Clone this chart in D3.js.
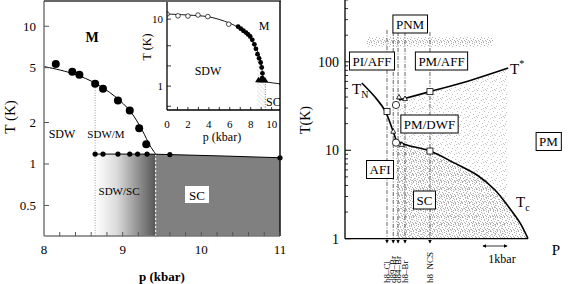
<!DOCTYPE html>
<html><head><meta charset="utf-8">
<script src="https://cdn.jsdelivr.net/npm/d3@7"></script>
<style>
body{margin:0;background:#fff}
svg{display:block}
text{font-family:"Liberation Serif","DejaVu Serif",serif;fill:#000}
</style>
</head><body>
<svg id="c" width="581" height="284"></svg>
<script>
// ---------------- DATA ----------------
// Left panel (main)
const leftTTicks = [0.5, 1, 2, 5, 10];
const leftTTickLabels = ["0.5", "1", "2", "5", "10"];
const leftPTicks = [8, 9, 10, 11];
const leftPTickLabels = ["8", "9", "10", "11"];
const sdwP = [8.15, 8.36, 8.45, 8.65, 8.75, 8.94, 9.09, 9.21, 9.30];
const sdwT = [5.33, 4.67, 4.44, 3.83, 3.52, 2.89, 2.45, 1.82, 1.39];
const sdwCurveP = [8.0, 8.3, 8.6, 8.9, 9.1, 9.25, 9.35, 9.42];
const sdwCurveT = [5.1, 4.65, 4.0, 3.1, 2.4, 1.75, 1.35, 1.18];
const scP = [8.65, 8.75, 8.94, 9.09, 9.19, 9.31, 9.60, 11.0];
const scT = [1.18, 1.18, 1.18, 1.18, 1.18, 1.18, 1.17, 1.11];
const coexStartP = 8.65, scOnsetP = 9.42;
const leftLabels = ["M", "SDW", "SDW/M", "SDW/SC", "SC"];

// Inset
const insetPTicks = [0, 2, 4, 6, 8, 10];
const insetTTicks = [1, 10];
const insetOpenP = [0, 1.05, 2.0, 2.96, 3.9, 5.9];
const insetOpenT = [11.9, 11.2, 11.1, 11.5, 10.9, 8.4];
const insetFilledP = [6.8, 7.05, 7.3, 7.55, 7.75, 7.95, 8.15, 8.35, 8.5, 8.65, 8.8, 8.95, 9.05, 9.12, 9.1];
const insetFilledT = [7.7, 7.2, 6.7, 6.3, 5.9, 5.5, 4.9, 4.2, 3.6, 3.0, 2.6, 2.25, 1.9, 1.55, 1.32];
const insetScPtsP = [8.75, 8.95, 9.15, 9.35];
const insetScPtsT = [1.2, 1.2, 1.2, 1.2];
const insetCurveP = [0, 2, 4, 5.5, 6.5, 7.3, 7.9, 8.4, 8.8, 9.0, 9.1, 9.15, 9.2];
const insetCurveT = [11.9, 11.5, 10.8, 9.3, 8.0, 6.6, 5.5, 4.0, 2.9, 2.2, 1.7, 1.4, 1.2];
const insetScLineP = [8.6, 11.0];
const insetScLineT = [1.2, 1.07];

// Right panel (generic phase diagram, pressure in kbar relative to h8-Cl)
const rightTTicks = [1, 10, 100];
const rightTTickLabels = ["1", "10", "100"];
const sampleNames = ["h8\u2013Cl", "d89\u2013Br", "d84\u2013Br", "h8\u2013Br", "h8\u2002NCS"];
const sampleP = [0, 0.26, 0.46, 0.75, 1.79];
const tStarP = [0.5, 1.79, 3.5, 5.05];
const tStarT = [37, 46, 62, 85];
const tNP = [-1.05, -0.5, -0.08, 0.26, 0.375];
const tNT = [57.7, 40, 27.9, 16.2, 13.1];
const tcP = [0.375, 0.75, 1.79, 2.8, 3.75, 4.5, 5.125, 5.55, 5.875];
const tcT = [13, 11.6, 9.8, 7.2, 5.25, 3.55, 2.18, 1.5, 1.0];
const openCircP = [0.375, 0.375];
const openCircT = [32.5, 12.2];
const openSqP = [0, 1.79, 1.79];
const openSqT = [27.5, 46, 9.8];
const smallTriP = [0.5, 0.75, 0.26, 0.62];
const smallTriT = [39.6, 38, 16.2, 11.5];
const boxLabels = ["PNM", "PI/AFF", "PM/AFF", "PM/DWF", "PM", "AFI", "SC"];

// ---------------- DRAW ----------------
const svg = d3.select("#c");
const defs = svg.append("defs");
const zip = (a, b) => a.map((v, i) => [v, b[i]]);

const grad = defs.append("linearGradient").attr("id", "g1").attr("x1", "0").attr("x2", "1").attr("y1", "0").attr("y2", "0");
grad.append("stop").attr("offset", "0").attr("stop-color", "#ffffff");
grad.append("stop").attr("offset", "0.35").attr("stop-color", "#dcdcdc");
grad.append("stop").attr("offset", "1").attr("stop-color", "#555555");
const hatch = defs.append("pattern").attr("id", "hatch").attr("width", 3).attr("height", 3)
  .attr("patternUnits", "userSpaceOnUse").attr("patternTransform", "rotate(-45)");
hatch.append("line").attr("x1", 0).attr("y1", 0).attr("x2", 0).attr("y2", 3).attr("stroke", "#aaa").attr("stroke-width", 0.6);
function stipple(id, size, dots, col) {
  const p = defs.append("pattern").attr("id", id).attr("width", size).attr("height", size).attr("patternUnits", "userSpaceOnUse");
  dots.forEach(d => p.append("rect").attr("x", d[0]).attr("y", d[1]).attr("width", 1).attr("height", 1).attr("fill", col));
}
stipple("st1", 9, [[0,0],[4,1],[7,3],[2,4],[5,6],[1,7],[8,8],[6,0]], "#c4c4c4");
stipple("st2", 7, [[0,0],[3,1],[5,2],[1,3],[4,4],[6,5],[2,5],[0,6],[5,0],[3,6]], "#adadad");

// ===== LEFT PANEL =====
const xL = d3.scaleLinear().domain([8, 11]).range([44, 280]);
const yL = d3.scaleLog().domain([0.3, 15]).range([236, 2]);
const gL = svg.append("g");
const Tmin = 0.3;

gL.append("rect").attr("x", xL(coexStartP)).attr("y", yL(1.18))
  .attr("width", xL(scOnsetP) - xL(coexStartP)).attr("height", yL(Tmin) - yL(1.18)).attr("fill", "url(#g1)");
const scPoly = [[scOnsetP, Tmin], [scOnsetP, 1.18], [9.60, 1.17], [11, 1.11], [11, Tmin]];
gL.append("path").attr("d", d3.line().x(d => xL(d[0])).y(d => yL(d[1]))(scPoly) + "Z").attr("fill", "#808080");
gL.append("line").attr("x1", xL(scOnsetP)).attr("x2", xL(scOnsetP)).attr("y1", yL(Tmin)).attr("y2", yL(1.18))
  .attr("stroke", "#fff").attr("stroke-width", 1).attr("stroke-dasharray", "2,2");
gL.append("line").attr("x1", xL(coexStartP)).attr("x2", xL(coexStartP)).attr("y1", yL(Tmin)).attr("y2", yL(3.95))
  .attr("stroke", "#888").attr("stroke-width", 0.8).attr("stroke-dasharray", "1,1.5");

const lineL = d3.line().x(d => xL(d[0])).y(d => yL(d[1])).curve(d3.curveMonotoneX);
gL.append("path").attr("d", d3.line().x(d => xL(d[0])).y(d => yL(d[1])).curve(d3.curveCatmullRom)(zip(sdwCurveP, sdwCurveT)))
  .attr("fill", "none").attr("stroke", "#000").attr("stroke-width", 1);
gL.append("path").attr("d", lineL(zip(scP, scT))).attr("fill", "none").attr("stroke", "#000").attr("stroke-width", 1);
gL.selectAll(".sdw").data(zip(sdwP, sdwT)).join("circle").attr("cx", d => xL(d[0])).attr("cy", d => yL(d[1])).attr("r", 4).attr("fill", "#000");
gL.selectAll(".sc").data(zip(scP, scT)).join("circle").attr("cx", d => xL(d[0])).attr("cy", d => yL(d[1])).attr("r", 2.6).attr("fill", "#000");

gL.append("line").attr("x1", 44).attr("x2", 44).attr("y1", 1).attr("y2", 236).attr("stroke", "#777").attr("stroke-width", 1.5);
gL.append("line").attr("x1", 44).attr("x2", 280).attr("y1", 236).attr("y2", 236).attr("stroke", "#777").attr("stroke-width", 1.5);
gL.append("line").attr("x1", 44).attr("x2", 281).attr("y1", 1).attr("y2", 1).attr("stroke", "#333").attr("stroke-width", 1.5);
gL.append("line").attr("x1", 280).attr("x2", 280).attr("y1", 1).attr("y2", 236).attr("stroke", "#111").attr("stroke-width", 1.5);
leftTTicks.forEach((t, i) => {
  gL.append("line").attr("x1", 44).attr("x2", 49).attr("y1", yL(t)).attr("y2", yL(t)).attr("stroke", "#555").attr("stroke-width", 1);
  gL.append("text").attr("x", 36).attr("y", yL(t) + 4.5).attr("text-anchor", "end").attr("font-size", 13).text(leftTTickLabels[i]);
});
d3.range(8.2, 11, 0.2).forEach(p => {
  gL.append("line").attr("x1", xL(p)).attr("x2", xL(p)).attr("y1", 236).attr("y2", 232).attr("stroke", "#555").attr("stroke-width", 1);
});
leftPTicks.forEach((p, i) => {
  gL.append("text").attr("x", xL(p)).attr("y", 254).attr("text-anchor", "middle").attr("font-size", 13).text(leftPTickLabels[i]);
});
gL.append("text").attr("x", 162).attr("y", 281).attr("text-anchor", "middle").attr("font-size", 13).attr("font-weight", "bold").text("p (kbar)");
gL.append("text").attr("transform", "translate(15,117) rotate(-90)").attr("text-anchor", "middle").attr("font-size", 15).text("T (K)");

gL.append("text").attr("x", 92).attr("y", 42).attr("text-anchor", "middle").attr("font-size", 14).attr("font-weight", "bold").text(leftLabels[0]);
gL.append("text").attr("x", 62).attr("y", 138).attr("text-anchor", "middle").attr("font-size", 12).text(leftLabels[1]);
gL.append("text").attr("x", 106).attr("y", 138).attr("text-anchor", "middle").attr("font-size", 11).text(leftLabels[2]);
gL.append("text").attr("x", 119).attr("y", 195).attr("text-anchor", "middle").attr("font-size", 11).text(leftLabels[3]);
gL.append("rect").attr("x", 185).attr("y", 186).attr("width", 24).attr("height", 17).attr("fill", "#fff");
gL.append("text").attr("x", 197).attr("y", 200).attr("text-anchor", "middle").attr("font-size", 13).text(leftLabels[4]);

// ===== INSET =====
const xI = d3.scaleLinear().domain([0, 10.8]).range([167, 280]);
const yI = d3.scaleLog().domain([0.44, 18]).range([110, 2]);
const gI = svg.append("g");
gI.append("rect").attr("x", 167).attr("y", 2).attr("width", 112).attr("height", 108).attr("fill", "#fff");
const clipI = defs.append("clipPath").attr("id", "ci");
clipI.append("rect").attr("x", 167).attr("y", 2).attr("width", 113).attr("height", 108);
const gIc = gI.append("g").attr("clip-path", "url(#ci)");
const lineI = d3.line().x(d => xI(d[0])).y(d => yI(d[1]));
const hatchPoly = [[8.6, 0.44], [8.6, 2.5], [8.95, 2.2], [9.1, 1.5], [9.4, 1.2], [9.4, 0.44]];
gIc.append("path").attr("d", lineI(hatchPoly) + "Z").attr("fill", "url(#hatch)");
gIc.append("line").attr("x1", xI(9.4)).attr("x2", xI(9.4)).attr("y1", yI(0.44)).attr("y2", yI(1.2))
  .attr("stroke", "#444").attr("stroke-width", 0.7).attr("stroke-dasharray", "1,1.5");
gIc.append("path").attr("d", d3.line().x(d => xI(d[0])).y(d => yI(d[1])).curve(d3.curveCatmullRom)(zip(insetCurveP, insetCurveT))).attr("fill", "none").attr("stroke", "#000").attr("stroke-width", 0.9);
gIc.append("path").attr("d", lineI(zip(insetScLineP, insetScLineT))).attr("fill", "none").attr("stroke", "#000").attr("stroke-width", 0.9);
gIc.selectAll(".io").data(zip(insetOpenP, insetOpenT)).join("circle").attr("cx", d => xI(d[0])).attr("cy", d => yI(d[1])).attr("r", 2.3)
  .attr("fill", "#fff").attr("stroke", "#000").attr("stroke-width", 0.7);
gIc.selectAll(".if").data(zip(insetFilledP, insetFilledT)).join("circle").attr("cx", d => xI(d[0])).attr("cy", d => yI(d[1])).attr("r", 2.4).attr("fill", "#000");
gIc.selectAll(".is").data(zip(insetScPtsP, insetScPtsT)).join("path")
  .attr("d", d => `M${xI(d[0])},${yI(d[1]) - 4}l3.5,5.5h-7z`).attr("fill", "#000");
gIc.append("circle").attr("cx", xI(11)).attr("cy", yI(1.07)).attr("r", 2.5).attr("fill", "#000");
gI.append("line").attr("x1", 167).attr("x2", 167).attr("y1", 2).attr("y2", 110).attr("stroke", "#000").attr("stroke-width", 1.3);
gI.append("line").attr("x1", 167).attr("x2", 280).attr("y1", 110).attr("y2", 110).attr("stroke", "#000").attr("stroke-width", 1.3);
d3.range(1, 11).forEach(p => {
  gI.append("line").attr("x1", xI(p)).attr("x2", xI(p)).attr("y1", 110).attr("y2", 107).attr("stroke", "#000").attr("stroke-width", 0.8);
});
[0.5, 2, 4, 10, 1].forEach(t => {
  gI.append("line").attr("x1", 167).attr("x2", 171).attr("y1", yI(t)).attr("y2", yI(t)).attr("stroke", "#000").attr("stroke-width", 0.8);
});
insetPTicks.forEach(p => {
  gI.append("text").attr("x", xI(p)).attr("y", 128).attr("text-anchor", "middle").attr("font-size", 11).text(p);
});
insetTTicks.forEach(t => {
  gI.append("text").attr("x", 163).attr("y", yI(t) + 4).attr("text-anchor", "end").attr("font-size", 11).text(t);
});
gI.append("text").attr("x", 222).attr("y", 141).attr("text-anchor", "middle").attr("font-size", 12).text("p (kbar)");
gI.append("text").attr("transform", "translate(151,47) rotate(-90)").attr("text-anchor", "middle").attr("font-size", 12).text("T (K)");
gI.append("text").attr("x", 264).attr("y", 30).attr("text-anchor", "middle").attr("font-size", 12).text("M");
gI.append("text").attr("x", 208).attr("y", 75).attr("text-anchor", "middle").attr("font-size", 12).text("SDW");
gIc.append("text").attr("x", 266).attr("y", 106).attr("font-size", 12).text("SC");

// ===== RIGHT PANEL =====
const xR = d3.scaleLinear().domain([-1.75, 5.875]).range([345, 528]);
const yR = d3.scaleLog().domain([1, 500]).range([238.7, 0]);
const gR = svg.append("g");
const lineR = d3.line().x(d => xR(d[0])).y(d => yR(d[1])).curve(d3.curveMonotoneX);

gR.append("rect").attr("x", xR(-0.83)).attr("y", yR(190)).attr("width", xR(4.42) - xR(-0.83)).attr("height", yR(148) - yR(190)).attr("fill", "url(#st2)");
const tStarRegion = zip(tStarP, tStarT).concat([[5.05, 1], [0.5, 1]]);
gR.append("path").attr("d", d3.line().x(d => xR(d[0])).y(d => yR(d[1]))(tStarRegion) + "Z").attr("fill", "url(#st1)");
gR.append("path").attr("d", lineR(zip(tcP, tcT)) + `L${xR(0.375)},${yR(1)}Z`).attr("fill", "url(#st2)");

defs.append("marker").attr("id", "ah").attr("viewBox", "0 0 6 6").attr("refX", 5).attr("refY", 3)
  .attr("markerWidth", 5).attr("markerHeight", 5).attr("orient", "auto-start-reverse")
  .append("path").attr("d", "M0,0L6,3L0,6z").attr("fill", "#000");

sampleP.forEach((p, i) => {
  gR.append("line").attr("x1", xR(p)).attr("x2", xR(p)).attr("y1", i === 0 ? 30 : 32).attr("y2", 243)
    .attr("stroke", "#222").attr("stroke-width", 0.7).attr("stroke-dasharray", "4,1.5,1,1.5").attr("marker-end", "url(#ah)");
  gR.append("text").attr("transform", `translate(${xR(p) + 3},283) rotate(-90)`).attr("font-size", 9)
    .style("white-space", "pre").text(sampleNames[i]);
});

const curveStyle = s => s.attr("fill", "none").attr("stroke", "#000").attr("stroke-width", 1.6);
curveStyle(gR.append("path").attr("d", d3.line().x(d => xR(d[0])).y(d => yR(d[1])).curve(d3.curveCatmullRom)(zip(tStarP, tStarT))));
curveStyle(gR.append("path").attr("d", d3.line().x(d => xR(d[0])).y(d => yR(d[1])).curve(d3.curveCatmullRom)(zip(tNP, tNT))));
curveStyle(gR.append("path").attr("d", d3.line().x(d => xR(d[0])).y(d => yR(d[1])).curve(d3.curveCatmullRom)(zip(tcP, tcT))));

gR.selectAll(".oc").data(zip(openCircP, openCircT)).join("circle").attr("cx", d => xR(d[0])).attr("cy", d => yR(d[1])).attr("r", 3.6)
  .attr("fill", "#fff").attr("stroke", "#000").attr("stroke-width", 0.8);
gR.selectAll(".os").data(zip(openSqP, openSqT)).join("rect").attr("x", d => xR(d[0]) - 3).attr("y", d => yR(d[1]) - 3).attr("width", 6).attr("height", 6)
  .attr("fill", "#fff").attr("stroke", "#000").attr("stroke-width", 0.8);
gR.selectAll(".st").data(zip(smallTriP, smallTriT)).join("path")
  .attr("d", d => `M${xR(d[0])},${yR(d[1]) - 3}l2.5,4.5h-5z`).attr("fill", "#fff").attr("stroke", "#000").attr("stroke-width", 0.8);

gR.append("line").attr("x1", 345).attr("x2", 345).attr("y1", 0).attr("y2", 238.7).attr("stroke", "#000").attr("stroke-width", 1.3);
gR.append("line").attr("x1", 345).attr("x2", 528).attr("y1", 238.7).attr("y2", 238.7).attr("stroke", "#000").attr("stroke-width", 1.3);
[1, 10, 100].forEach(dec => d3.range(1, 10).forEach(m => {
  const t = dec * m;
  if (t > 500) return;
  const major = m === 1;
  gR.append("line").attr("x1", 345).attr("x2", 345 + (major ? 6 : 3)).attr("y1", yR(t)).attr("y2", yR(t)).attr("stroke", "#000").attr("stroke-width", major ? 1 : 0.8);
}));
rightTTicks.forEach((t, i) => {
  gR.append("text").attr("x", 339).attr("y", yR(t) + 5).attr("text-anchor", "end").attr("font-size", 14).text(rightTTickLabels[i]);
});
gR.append("text").attr("transform", "translate(310,120) rotate(-90)").attr("text-anchor", "middle").attr("font-size", 14).text("T(K)");
gR.append("text").attr("x", 556).attr("y", 255).attr("text-anchor", "middle").attr("font-size", 15).text("P");
gR.append("line").attr("x1", xR(4.0)).attr("x2", xR(5.0)).attr("y1", 246).attr("y2", 246).attr("stroke", "#000").attr("stroke-width", 0.8)
  .attr("marker-end", "url(#ah)").attr("marker-start", "url(#ah)");
gR.append("text").attr("x", 502).attr("y", 263).attr("text-anchor", "middle").attr("font-size", 12).text("1kbar");

const tl = (x, y, main, sub, sup) => {
  const t = gR.append("text").attr("x", x).attr("y", y).attr("font-size", 15).text(main);
  if (sub) t.append("tspan").attr("font-size", 10).attr("dy", 4).text(sub);
  if (sup) t.append("tspan").attr("font-size", 10).attr("dy", -7).text(sup);
};
tl(352, 94, "T", "N");
tl(510, 74, "T", null, "*");
tl(516, 207, "T", "c");

const boxCenters = [[410, 24], [372, 61], [441.5, 61], [429.5, 124], [548.5, 141.5], [380, 169.5], [424.5, 200]];
boxLabels.forEach((lab, i) => {
  const [cx, cy] = boxCenters[i];
  const g = gR.append("g");
  const r = g.append("rect").attr("fill", "#fff").attr("stroke", "#000").attr("stroke-width", 1);
  const t = g.append("text").attr("x", cx).attr("y", cy + 4.5).attr("text-anchor", "middle").attr("font-size", 13).text(lab);
  const bb = t.node().getBBox();
  r.attr("x", bb.x - 3).attr("y", cy - 9).attr("width", bb.width + 6).attr("height", 18);
});
</script>
</body></html>
